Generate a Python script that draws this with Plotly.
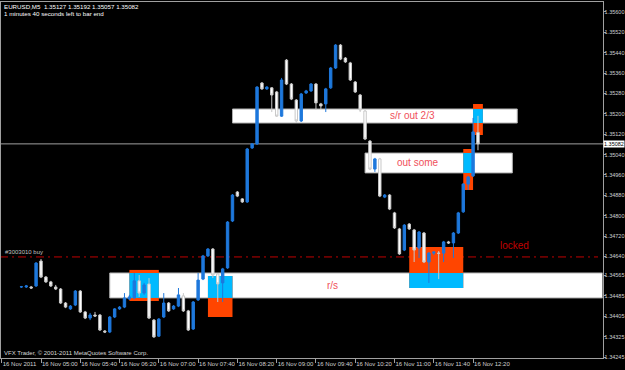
import plotly.graph_objects as go
import pandas as pd

# ---------------- data ----------------
times = pd.date_range("2011-11-16 04:40", periods=94, freq="5min")

open_ = [1.34520, 1.34520, 1.34520, 1.34524, 1.34622, 1.34559, 1.34540, 1.34520, 1.34512, 1.34457,
         1.34434, 1.34449, 1.34504, 1.34422, 1.34398, 1.34410, 1.34410, 1.34347, 1.34343, 1.34402,
         1.34434, 1.34441, 1.34473, 1.34477, 1.34544, 1.34496, 1.34532, 1.34390, 1.34327, 1.34402,
         1.34457, 1.34434, 1.34445, 1.34485, 1.34426, 1.34355, 1.34469, 1.34551, 1.34642, 1.34669,
         1.34571, 1.34536, 1.34595, 1.34779, 1.34893, 1.34866, 1.34854, 1.35066, 1.35082, 1.35321,
         1.35298, 1.35302, 1.35286, 1.35191, 1.35411, 1.35317, 1.35254, 1.35172, 1.35282, 1.35290,
         1.35317, 1.35239, 1.35239, 1.35302, 1.35380, 1.35470, 1.35419, 1.35400, 1.35325, 1.35274,
         1.35211, 1.35093, 1.34983, 1.35023, 1.34873, 1.34881, 1.34811, 1.34748, 1.34665, 1.34767,
         1.34744, 1.34673, 1.34732, 1.34618, 1.34653, 1.34653, 1.34653, 1.34697, 1.34693, 1.34732,
         1.34815, 1.34924, 1.34956, 1.35127]
high = [1.34524, 1.34528, 1.34524, 1.34618, 1.34630, 1.34563, 1.34544, 1.34528, 1.34516, 1.34461,
        1.34449, 1.34508, 1.34508, 1.34426, 1.34418, 1.34422, 1.34414, 1.34351, 1.34406, 1.34437,
        1.34445, 1.34496, 1.34489, 1.34575, 1.34567, 1.34536, 1.34555, 1.34394, 1.34398, 1.34496,
        1.34461, 1.34449, 1.34516, 1.34496, 1.34430, 1.34465, 1.34575, 1.34646, 1.34673, 1.34673,
        1.34575, 1.34595, 1.34779, 1.34885, 1.34897, 1.34869, 1.35066, 1.35085, 1.35309, 1.35325,
        1.35309, 1.35305, 1.35290, 1.35341, 1.35415, 1.35321, 1.35258, 1.35282, 1.35294, 1.35321,
        1.35321, 1.35243, 1.35302, 1.35384, 1.35474, 1.35474, 1.35423, 1.35404, 1.35329, 1.35278,
        1.35215, 1.35097, 1.35027, 1.35027, 1.34885, 1.34885, 1.34815, 1.34752, 1.34767, 1.34771,
        1.34748, 1.34740, 1.34736, 1.34657, 1.34661, 1.34661, 1.34701, 1.34701, 1.34736, 1.34815,
        1.34928, 1.34956, 1.35184, 1.35192]
low = [1.34516, 1.34516, 1.34512, 1.34520, 1.34555, 1.34536, 1.34520, 1.34508, 1.34453, 1.34437,
       1.34430, 1.34445, 1.34418, 1.34394, 1.34390, 1.34402, 1.34347, 1.34339, 1.34339, 1.34398,
       1.34430, 1.34437, 1.34469, 1.34473, 1.34481, 1.34489, 1.34394, 1.34320, 1.34324, 1.34398,
       1.34422, 1.34430, 1.34441, 1.34422, 1.34347, 1.34351, 1.34465, 1.34547, 1.34638, 1.34555,
       1.34461, 1.34461, 1.34591, 1.34775, 1.34873, 1.34850, 1.34850, 1.35062, 1.35078, 1.35294,
       1.35294, 1.35207, 1.35188, 1.35188, 1.35313, 1.35254, 1.35164, 1.35168, 1.35278, 1.35286,
       1.35215, 1.35219, 1.35207, 1.35298, 1.35376, 1.35411, 1.35400, 1.35329, 1.35282, 1.35207,
       1.35097, 1.34979, 1.34972, 1.34873, 1.34869, 1.34822, 1.34748, 1.34646, 1.34661, 1.34744,
       1.34618, 1.34634, 1.34614, 1.34536, 1.34646, 1.34551, 1.34618, 1.34689, 1.34634, 1.34728,
       1.34811, 1.34901, 1.34952, 1.35057]
close = [1.34521, 1.34524, 1.34516, 1.34614, 1.34559, 1.34540, 1.34524, 1.34512, 1.34457, 1.34441,
         1.34445, 1.34504, 1.34422, 1.34398, 1.34410, 1.34406, 1.34351, 1.34343, 1.34402, 1.34434,
         1.34441, 1.34477, 1.34481, 1.34544, 1.34496, 1.34528, 1.34398, 1.34324, 1.34394, 1.34457,
         1.34426, 1.34445, 1.34489, 1.34426, 1.34351, 1.34461, 1.34547, 1.34642, 1.34669, 1.34567,
         1.34532, 1.34591, 1.34775, 1.34881, 1.34877, 1.34854, 1.35062, 1.35082, 1.35305, 1.35298,
         1.35305, 1.35274, 1.35191, 1.35333, 1.35317, 1.35258, 1.35172, 1.35278, 1.35290, 1.35317,
         1.35243, 1.35231, 1.35298, 1.35380, 1.35470, 1.35415, 1.35404, 1.35333, 1.35286, 1.35215,
         1.35101, 1.34983, 1.35023, 1.34877, 1.34881, 1.34826, 1.34752, 1.34650, 1.34763, 1.34748,
         1.34665, 1.34736, 1.34618, 1.34653, 1.34657, 1.34652, 1.34697, 1.34693, 1.34732, 1.34811,
         1.34924, 1.34952, 1.35129, 1.35082]

price_ticks = [1.35600, 1.35520, 1.35440, 1.35360, 1.35280, 1.35200, 1.35120, 1.35040, 1.34960,
               1.34880, 1.34800, 1.34720, 1.34640, 1.34565, 1.34485, 1.34405, 1.34325, 1.34245]
price_tick_labels = ["%.5f" % v for v in price_ticks]

time_ticks = ["2011-11-16 04:20", "2011-11-16 05:00", "2011-11-16 05:40", "2011-11-16 06:20",
              "2011-11-16 07:00", "2011-11-16 07:40", "2011-11-16 08:20", "2011-11-16 09:00",
              "2011-11-16 09:40", "2011-11-16 10:20", "2011-11-16 11:00", "2011-11-16 11:40",
              "2011-11-16 12:20"]
time_tick_labels = ["16 Nov 2011", "16 Nov 05:00", "16 Nov 05:40", "16 Nov 06:20", "16 Nov 07:00",
                    "16 Nov 07:40", "16 Nov 08:20", "16 Nov 09:00", "16 Nov 09:40", "16 Nov 10:20",
                    "16 Nov 11:00", "16 Nov 11:40", "16 Nov 12:20"]

# support / resistance bands
band_t0 = ["2011-11-16 08:15", "2011-11-16 10:30", "2011-11-16 06:10"]
band_t1 = ["2011-11-16 13:05", "2011-11-16 13:00", "2011-11-16 15:30"]
band_lo = [1.35164, 1.34968, 1.34477]
band_hi = [1.35219, 1.35046, 1.34575]
band_text = ["s/r out 2/3", "out some", "r/s"]
band_text_t = ["2011-11-16 10:53:20", "2011-11-16 11:00:30", "2011-11-16 09:49"]

# highlight boxes
box_t0 = ["2011-11-16 06:30", "2011-11-16 07:50", "2011-11-16 11:15", "2011-11-16 12:10", "2011-11-16 12:20"]
box_t1 = ["2011-11-16 07:00", "2011-11-16 08:15", "2011-11-16 12:10", "2011-11-16 12:20", "2011-11-16 12:30"]
box_lo = [1.34465, 1.34402, 1.34516, 1.34901, 1.35117]
box_hi = [1.34587, 1.34563, 1.34677, 1.35062, 1.35239]

order_price = 1.34638
bid = 1.35082

# ---------------- figure ----------------
W, H = 625, 370
fig = go.Figure()
fig.add_trace(go.Candlestick(
    x=times, open=open_, high=high, low=low, close=close,
    increasing=dict(line=dict(color="#1E78DC", width=1), fillcolor="#1E78DC"),
    decreasing=dict(line=dict(color="#C8C8C8", width=1), fillcolor="#FFFFFF"),
    whiskerwidth=0, hoverinfo="skip", showlegend=False,
))

shapes = []
for t0, t1, lo, hi in zip(band_t0, band_t1, band_lo, band_hi):
    shapes.append(dict(type="rect", xref="x", yref="y", x0=t0, x1=t1, y0=lo, y1=hi,
                       fillcolor="#FFFFFF", line=dict(color="#B0B0B0", width=1), layer="below"))
for t0, t1, lo, hi in zip(box_t0, box_t1, box_lo, box_hi):
    shapes.append(dict(type="rect", xref="x", yref="y", x0=t0, x1=t1, y0=lo, y1=hi,
                       fillcolor="#FF4500", line=dict(width=0), layer="below"))
    for bt0, bt1, blo, bhi in zip(band_t0, band_t1, band_lo, band_hi):
        a0 = max(pd.Timestamp(t0), pd.Timestamp(bt0))
        a1 = min(pd.Timestamp(t1), pd.Timestamp(bt1))
        c0 = max(lo, blo)
        c1 = min(hi, bhi)
        if a0 < a1 and c0 < c1:
            shapes.append(dict(type="rect", xref="x", yref="y", x0=a0, x1=a1, y0=c0, y1=c1,
                               fillcolor="#00BAFF", line=dict(width=0), layer="below"))
shapes.append(dict(type="line", xref="paper", yref="y", x0=0, x1=598 / W, y0=order_price, y1=order_price,
                   line=dict(color="#C00000", width=1, dash="8px,4px,2px,4px"), layer="below"))
shapes.append(dict(type="line", xref="paper", yref="y", x0=0, x1=603 / W, y0=bid, y1=bid,
                   line=dict(color="#A0A0A0", width=1), layer="below"))

FAM = "Liberation Sans, Arial, sans-serif"
tickfont = dict(family=FAM, size=6, color="#D0D0D0")
annotations = []
for txt, tt, lo, hi in zip(band_text, band_text_t, band_lo, band_hi):
    annotations.append(dict(x=tt, y=(lo + hi) / 2, xref="x", yref="y", text=txt, showarrow=False,
                            xanchor="left", yanchor="middle",
                            font=dict(family=FAM, size=10, color="#F0505A")))
annotations.append(dict(x="2011-11-16 12:45:30", y=1.34681, xref="x", yref="y", text="locked",
                        showarrow=False, xanchor="left", yanchor="middle",
                        font=dict(family=FAM, size=10, color="#C00000")))
annotations.append(dict(x=3 / W, y=order_price, xref="paper", yref="y", text="#3003010 buy",
                        showarrow=False, xanchor="left", yanchor="bottom", font=dict(tickfont, color="#C0C0C0")))
annotations.append(dict(x=2 / W, y=1 - 6 / H, xref="paper", yref="paper",
                        text="EURUSD,M5  1.35127 1.35192 1.35057 1.35082", showarrow=False,
                        xanchor="left", yanchor="middle", font=dict(tickfont, size=6.2, color="#FFFFFF")))
annotations.append(dict(x=2 / W, y=1 - 13.5 / H, xref="paper", yref="paper",
                        text="1 minutes 40 seconds left to bar end", showarrow=False,
                        xanchor="left", yanchor="middle", font=dict(tickfont, size=6.2, color="#FFFFFF")))
annotations.append(dict(x=2 / W, y=1 - 353 / H, xref="paper", yref="paper",
                        text="VFX Trader, © 2001-2011 MetaQuotes Software Corp.", showarrow=False,
                        xanchor="left", yanchor="middle", font=dict(tickfont, color="#D8D8D8")))
annotations.append(dict(x=603 / W, y=bid, xref="paper", yref="y", text="%.5f" % bid, showarrow=False,
                        xanchor="left", yanchor="middle", bgcolor="#FFFFFF", borderpad=0,
                        font=dict(tickfont, size=5.5, color="#000000")))

fig.update_layout(
    width=W, height=H, margin=dict(l=0, r=0, t=0, b=0, autoexpand=False),
    paper_bgcolor="#000000", plot_bgcolor="#000000",
    shapes=shapes, annotations=annotations, showlegend=False,
    xaxis=dict(type="date", domain=[1 / W, 602.5 / W],
               range=["2011-11-16 04:19:16", "2011-11-16 14:31:48"],
               tickvals=time_ticks, ticktext=time_tick_labels, ticks="outside", ticklen=4,
               tickcolor="#A0A0A0", ticklabelposition="outside right", tickangle=0,
               tickfont=tickfont, showline=True, linecolor="#A0A0A0", mirror=True, automargin=False,
               showgrid=False, zeroline=False, rangeslider=dict(visible=False), fixedrange=True),
    yaxis=dict(side="right", domain=[12 / H, 368 / H], range=[1.342411, 1.356392],
               tickvals=price_ticks, ticktext=price_tick_labels, ticks="outside", ticklen=2,
               ticklabelstandoff=-2,
               tickcolor="#A0A0A0", tickfont=dict(tickfont, size=5.5), showline=True, automargin=False,
               linecolor="#A0A0A0", mirror=True, showgrid=False, zeroline=False, fixedrange=True),
)

fig.write_html("out.html")
